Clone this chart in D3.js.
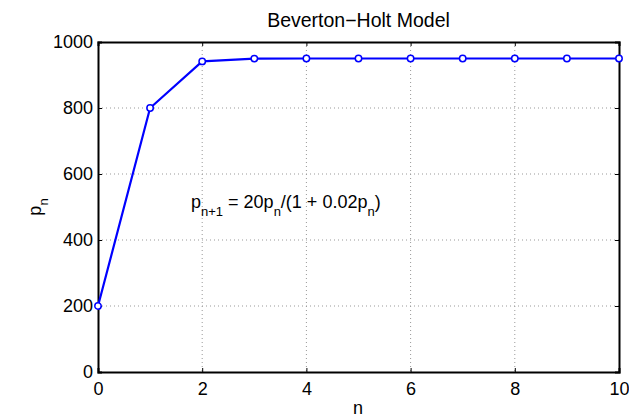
<!DOCTYPE html>
<html>
<head>
<meta charset="utf-8">
<script src="https://cdn.jsdelivr.net/npm/d3@7"></script>
<style>
  body { margin: 0; background: #fff; }
  text { font-family: "Liberation Sans", Arial, sans-serif; fill: #000; }
</style>
</head>
<body>
<svg id="chart"></svg>
<script>
const nValues = [0, 1, 2, 3, 4, 5, 6, 7, 8, 9, 10];
const pValues = [200, 800, 941.2, 949.7, 950, 950, 950, 950, 950, 950, 950];
const xTicks = [0, 2, 4, 6, 8, 10];
const yTicks = [0, 200, 400, 600, 800, 1000];

const svgWidth = 629, svgHeight = 416;
const margin = { top: 42, right: 10, bottom: 44, left: 98 };
const w = 619 - margin.left, h = 372 - margin.top;

const svg = d3.select('#chart')
  .attr('width', svgWidth)
  .attr('height', svgHeight);

const g = svg.append('g')
  .attr('transform', `translate(${margin.left},${margin.top})`);

const x = d3.scaleLinear().domain([0, 10]).range([0, w]);
const y = d3.scaleLinear().domain([0, 1000]).range([h, 0]);

// dotted grid
g.selectAll('.vgrid')
  .data(xTicks.slice(1, -1))
  .enter()
  .append('line')
  .attr('x1', d => x(d)).attr('x2', d => x(d))
  .attr('y1', 0).attr('y2', h)
  .style('stroke', '#999').style('stroke-dasharray', '1,3');

g.selectAll('.hgrid')
  .data(yTicks.slice(1, -1))
  .enter()
  .append('line')
  .attr('x1', 0).attr('x2', w)
  .attr('y1', d => y(d)).attr('y2', d => y(d))
  .style('stroke', '#999').style('stroke-dasharray', '1,3');

// axes (ticks inward, like matlab)
const xAxis = g.append('g')
  .attr('transform', `translate(0,${h})`)
  .call(d3.axisBottom(x).tickValues(xTicks).tickSize(-4).tickPadding(10).tickFormat(d3.format('d')));
const xTop = g.append('g')
  .call(d3.axisTop(x).tickValues(xTicks).tickSize(-4).tickFormat(''));
const yAxis = g.append('g')
  .call(d3.axisLeft(y).tickValues(yTicks).tickSize(-4).tickPadding(5).tickFormat(d3.format('d')));
const yRight = g.append('g')
  .attr('transform', `translate(${w},0)`)
  .call(d3.axisRight(y).tickValues(yTicks).tickSize(-4).tickFormat(''));

[xAxis, xTop, yAxis, yRight].forEach(a => {
  a.select('.domain').style('stroke', '#000').style('stroke-width', 2);
  a.selectAll('.tick line').style('stroke', '#000').style('stroke-width', 1);
  a.selectAll('text').style('font-size', '18px').style('fill', '#000')
    .style('font-family', '"Liberation Sans", Arial, sans-serif');
});

// line + markers
const line = d3.line()
  .x((d, i) => x(nValues[i]))
  .y(d => y(d));

g.append('path')
  .datum(pValues)
  .attr('d', line)
  .style('fill', 'none')
  .style('stroke', '#0000ff')
  .style('stroke-width', 2.2);

g.selectAll('circle')
  .data(pValues)
  .enter()
  .append('circle')
  .attr('cx', (d, i) => x(nValues[i]))
  .attr('cy', d => y(d))
  .attr('r', 3.2)
  .style('fill', '#fff')
  .style('stroke', '#0000ff')
  .style('stroke-width', 1.5);

// title and labels
svg.append('text')
  .attr('x', margin.left + w / 2).attr('y', 27)
  .attr('text-anchor', 'middle')
  .style('font-size', '19.5px')
  .text('Beverton\u2212Holt Model');

svg.append('text')
  .attr('x', 358).attr('y', 414)
  .attr('text-anchor', 'middle')
  .style('font-size', '18px')
  .text('n');

const yl = svg.append('text')
  .attr('transform', 'translate(41,207) rotate(-90)')
  .attr('text-anchor', 'middle')
  .style('font-size', '18px');
yl.append('tspan').text('p');
yl.append('tspan').attr('dy', 7).style('font-size', '13px').text('n');

// formula annotation
const ann = svg.append('text')
  .attr('x', 191).attr('y', 208)
  .style('font-size', '18px');
ann.append('tspan').text('p');
ann.append('tspan').attr('dy', 8).style('font-size', '13px').text('n+1');
ann.append('tspan').attr('dy', -8).text(' = 20p');
ann.append('tspan').attr('dy', 8).style('font-size', '13px').text('n');
ann.append('tspan').attr('dy', -8).text('/(1 + 0.02p');
ann.append('tspan').attr('dy', 8).style('font-size', '13px').text('n');
ann.append('tspan').attr('dy', -8).text(')');
</script>
</body>
</html>
